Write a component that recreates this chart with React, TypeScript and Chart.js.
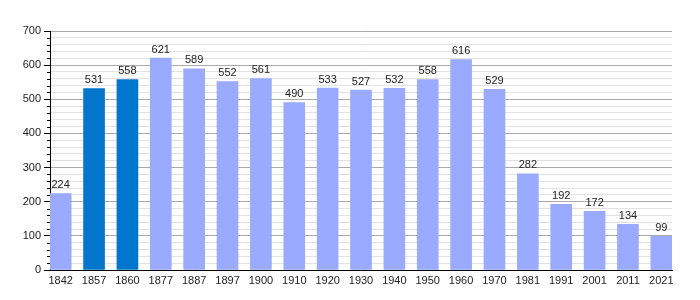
import React, { useEffect, useRef } from "react";
import { Chart, registerables } from "chart.js";

Chart.register(...registerables);

const years = ["1842", "1857", "1860", "1877", "1887", "1897", "1900", "1910", "1920", "1930", "1940", "1950", "1960", "1970", "1981", "1991", "2001", "2011", "2021"];
const population = [224, 531, 558, 621, 589, 552, 561, 490, 533, 527, 532, 558, 616, 529, 282, 192, 172, 134, 99];
const highlighted = ["1857", "1860"];

const LIGHT = "#99aaff";
const DARK = "#0077cc";
const FONT = "'Liberation Sans', Arial, sans-serif";

const valueLabels = {
  id: "valueLabels",
  afterDatasetsDraw(chart: any) {
    const ctx = chart.ctx;
    const meta = chart.getDatasetMeta(0);
    ctx.save();
    ctx.font = `11px ${FONT}`;
    ctx.fillStyle = "#222";
    ctx.textAlign = "center";
    ctx.textBaseline = "bottom";
    meta.data.forEach((bar: any, i: number) => {
      ctx.fillText(String(population[i]), bar.x, bar.y - 3);
    });
    ctx.restore();
  },
};

const minorTicks = {
  id: "minorTicks",
  afterDraw(chart: any) {
    const y = chart.scales.y;
    const ctx = chart.ctx;
    const x0 = chart.chartArea.left;
    ctx.save();
    ctx.strokeStyle = "#000";
    ctx.lineWidth = 1;
    y.ticks.forEach((t: any) => {
      if (t.value % 100 !== 0) {
        const py = Math.round(y.getPixelForValue(t.value)) + 0.5;
        ctx.beginPath();
        ctx.moveTo(x0 - 3, py);
        ctx.lineTo(x0, py);
        ctx.stroke();
      }
    });
    ctx.restore();
  },
};

export default function App() {
  const ref = useRef<HTMLCanvasElement | null>(null);
  useEffect(() => {
    if (!ref.current) return;
    const chart = new Chart(ref.current, {
      type: "bar",
      data: {
        datasets: [
          {
            data: population.map((v, i) => ({ x: i, y: v })),
            backgroundColor: years.map((y) => (highlighted.includes(y) ? DARK : LIGHT)),
            barThickness: 21,
            borderWidth: 0,
          },
        ],
      },
      options: {
        animation: false,
        responsive: false,
        layout: { padding: { left: 0, top: 31, right: 28, bottom: 0 } },
        plugins: { legend: { display: false }, tooltip: { enabled: false } },
        scales: {
          x: {
            type: "linear",
            offset: false,
            min: -0.32,
            max: 18.32,
            grid: { display: false, drawTicks: false, tickLength: 0 },
            border: { display: true, color: "#000", width: 1 },
            afterBuildTicks: (scale: any) => {
              scale.ticks = years.map((_, i) => ({ value: i }));
            },
            afterFit: (scale: any) => {
              scale.height = 30;
            },
            ticks: {
              autoSkip: false,
              maxRotation: 0,
              padding: 4,
              color: "#222",
              font: { family: FONT, size: 11 },
              callback: (v: any) => years[Math.round(Number(v))] ?? "",
            },
          },
          y: {
            min: 0,
            max: 700,
            afterFit: (scale: any) => {
              scale.width = 50;
            },
            border: { display: true, color: "#000", width: 1 },
            grid: {
              color: (c: any) => (c.tick && c.tick.value % 100 === 0 ? "#aaaaaa" : "#e2e2e2"),
              tickColor: (c: any) => (c.tick && c.tick.value % 100 === 0 ? "#000" : "transparent"),
              tickLength: 6,
            },
            ticks: {
              stepSize: 20,
              autoSkip: false,
              padding: 3,
              color: "#222",
              font: { family: FONT, size: 11 },
              callback: (v: any) => (Number(v) % 100 === 0 ? String(v) : ""),
            },
          },
        },
      },
      plugins: [valueLabels, minorTicks],
    });
    return () => chart.destroy();
  }, []);
  return (
    <div style={{ position: "absolute", left: 0, top: 0, width: 700, height: 300, background: "#fff" }}>
      <canvas ref={ref} width={700} height={300} style={{ display: "block" }} />
    </div>
  );
}
